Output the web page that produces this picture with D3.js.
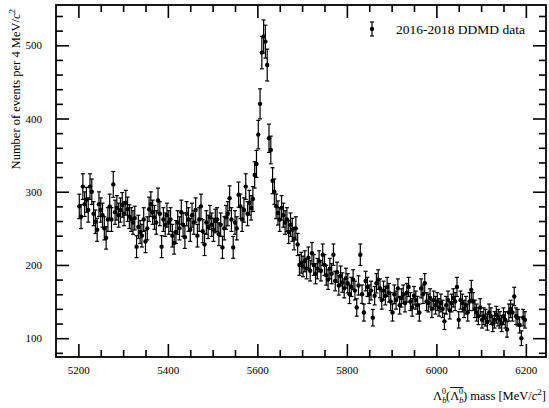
<!DOCTYPE html>
<html>
<head>
<meta charset="utf-8">
<script src="https://cdn.jsdelivr.net/npm/d3@7"></script>
<style>
  html, body { margin: 0; padding: 0; background: #fff; }
  svg { display: block; }
  text { font-family: "Liberation Serif", "DejaVu Serif", serif; fill: #000; }
</style>
</head>
<body>
<div id="chart"></div>
<script>
// ---------------- DATA ----------------
// Bin centres: 4 MeV/c^2 bins from 5200 to 6200
const binStart = 5200;
const binWidth = 4;
const nBins = 250;
const masses = d3.range(nBins).map(i => binStart + binWidth / 2 + i * binWidth);

// Events per bin
const counts = [
  // 5200-5240
  280, 266, 307, 283, 289, 275, 307, 300, 270, 259,
  // 5240-5280
  248, 283, 275, 268, 250, 237, 262, 280, 262, 310,
  // 5280-5320
  272, 278, 268, 275, 282, 270, 285, 276, 266, 262,
  // 5320-5360
  258, 264, 225, 252, 245, 240, 262, 232, 250, 276,
  // 5360-5400
  283, 272, 265, 258, 288, 270, 225, 262, 255, 268,
  // 5400-5440
  258, 262, 240, 230, 245, 258, 250, 272, 255, 238,
  // 5440-5480
  270, 262, 248, 268, 258, 275, 240, 262, 280, 246,
  // 5480-5520
  228, 258, 252, 265, 255, 248, 260, 262, 242, 255,
  // 5520-5560
  224, 250, 265, 270, 291, 262, 224, 258, 250, 296,
  // 5560-5600
  280, 262, 275, 307, 270, 285, 278, 290, 323, 338,
  // 5600-5648 (peak)
  378, 420, 490, 512, 505, 473, 373, 357, 315, 300, 280, 271,
  // 5648-5700
  262, 278, 268, 258, 262, 245, 255, 248, 236, 250, 228, 200, 203,
  // 5700-5800
  198, 205, 195, 210, 192, 216, 200, 188, 195, 205, 192, 214, 200,
  186, 180, 195, 188, 214, 178, 190, 172, 185, 176, 168, 182,
  // 5800-5900
  175, 160, 170, 180, 165, 142, 172, 214, 160, 135, 178, 170, 160,
  165, 128, 158, 175, 180, 168, 152, 165, 158, 170, 162, 150,
  // 5900-6000
  135, 160, 152, 168, 145, 155, 160, 148, 162, 170, 150, 142, 158,
  152, 145, 135, 168, 160, 175, 150, 148, 155, 140, 152, 145,
  // 6000-6100
  150, 142, 148, 140, 123, 145, 152, 138, 148, 155, 150, 170, 125,
  152, 148, 140, 145, 135, 150, 166, 150, 140, 135, 130, 142,
  // 6100-6200
  125, 130, 128, 122, 135, 130, 120, 125, 132, 128, 125, 120, 130,
  125, 112, 135, 140, 135, 157, 130, 128, 118, 100, 128, 125
];

const xMajorTicks = [5200, 5400, 5600, 5800, 6000, 6200];
const xMinorTicks = [5250, 5300, 5350, 5450, 5500, 5550, 5650, 5700, 5750,
                     5850, 5900, 5950, 6050, 6100, 6150, 6250];
const yMajorTicks = [100, 200, 300, 400, 500];
const yMinorTicks = [80, 120, 140, 160, 180, 220, 240, 260, 280, 320, 340,
                     360, 380, 420, 440, 460, 480, 520, 540];
const legendLabel = "2016-2018 DDMD data";

// ---------------- LAYOUT ----------------
const W = 549, H = 408;
const frame = { left: 56, right: 546, top: 5, bottom: 357 };

const x = d3.scaleLinear().domain([5150, 6245]).range([frame.left, frame.right]);
const y = d3.scaleLinear().domain([74.3, 555]).range([frame.bottom, frame.top]);

const svg = d3.select("#chart").append("svg")
  .attr("width", W).attr("height", H);

const data = masses.map((m, i) => ({ m, n: counts[i], e: Math.sqrt(counts[i]) }));

// ---------------- AXES ----------------
const majorLen = 13, minorLen = 7;
function styleAxis(g) {
  g.select(".domain").remove();
  g.selectAll(".tick line").attr("stroke", "#000").attr("stroke-width", 1.6);
  g.selectAll(".tick text").style("font-size", "11px");
}
const inRangeX = v => v > 5150 && v < 6245;

svg.append("g").attr("transform", `translate(0,${frame.bottom})`)
  .call(d3.axisBottom(x).tickValues(xMajorTicks).tickSize(-majorLen).tickPadding(9).tickFormat(d3.format("d")))
  .call(styleAxis);
svg.append("g").attr("transform", `translate(0,${frame.bottom})`)
  .call(d3.axisBottom(x).tickValues(xMinorTicks.filter(inRangeX)).tickSize(-minorLen).tickFormat(""))
  .call(styleAxis);
svg.append("g").attr("transform", `translate(0,${frame.top})`)
  .call(d3.axisTop(x).tickValues(xMajorTicks).tickSize(-majorLen).tickFormat(""))
  .call(styleAxis);
svg.append("g").attr("transform", `translate(0,${frame.top})`)
  .call(d3.axisTop(x).tickValues(xMinorTicks.filter(inRangeX)).tickSize(-minorLen).tickFormat(""))
  .call(styleAxis);

svg.append("g").attr("transform", `translate(${frame.left},0)`)
  .call(d3.axisLeft(y).tickValues(yMajorTicks).tickSize(-majorLen).tickPadding(14).tickFormat(d3.format("d")))
  .call(styleAxis);
svg.append("g").attr("transform", `translate(${frame.left},0)`)
  .call(d3.axisLeft(y).tickValues(yMinorTicks).tickSize(-minorLen).tickFormat(""))
  .call(styleAxis);
svg.append("g").attr("transform", `translate(${frame.right},0)`)
  .call(d3.axisRight(y).tickValues(yMajorTicks).tickSize(-majorLen).tickFormat(""))
  .call(styleAxis);
svg.append("g").attr("transform", `translate(${frame.right},0)`)
  .call(d3.axisRight(y).tickValues(yMinorTicks).tickSize(-minorLen).tickFormat(""))
  .call(styleAxis);

// frame
svg.append("rect")
  .attr("x", frame.left).attr("y", frame.top)
  .attr("width", frame.right - frame.left).attr("height", frame.bottom - frame.top)
  .attr("fill", "none").attr("stroke", "#000").attr("stroke-width", 1.8);

// ---------------- DATA POINTS ----------------
const capW = 2;
const pts = svg.append("g");
pts.selectAll("line.err").data(data).join("line")
  .attr("class", "err")
  .attr("x1", d => x(d.m)).attr("x2", d => x(d.m))
  .attr("y1", d => y(d.n - d.e)).attr("y2", d => y(d.n + d.e))
  .attr("stroke", "#000").attr("stroke-width", 1.2);
pts.selectAll("line.capT").data(data).join("line")
  .attr("class", "capT")
  .attr("x1", d => x(d.m) - capW).attr("x2", d => x(d.m) + capW)
  .attr("y1", d => y(d.n + d.e)).attr("y2", d => y(d.n + d.e))
  .attr("stroke", "#000").attr("stroke-width", 1.2);
pts.selectAll("line.capB").data(data).join("line")
  .attr("class", "capB")
  .attr("x1", d => x(d.m) - capW).attr("x2", d => x(d.m) + capW)
  .attr("y1", d => y(d.n - d.e)).attr("y2", d => y(d.n - d.e))
  .attr("stroke", "#000").attr("stroke-width", 1.2);
pts.selectAll("circle").data(data).join("circle")
  .attr("cx", d => x(d.m)).attr("cy", d => y(d.n)).attr("r", 2.2)
  .attr("fill", "#000");

// ---------------- LEGEND ----------------
const lg = svg.append("g").attr("transform", "translate(372,29)");
lg.append("line").attr("x1", 0).attr("x2", 0).attr("y1", -7).attr("y2", 7)
  .attr("stroke", "#000").attr("stroke-width", 1.2);
lg.append("line").attr("x1", -capW).attr("x2", capW).attr("y1", -7).attr("y2", -7)
  .attr("stroke", "#000").attr("stroke-width", 1.2);
lg.append("line").attr("x1", -capW).attr("x2", capW).attr("y1", 7).attr("y2", 7)
  .attr("stroke", "#000").attr("stroke-width", 1.2);
lg.append("circle").attr("r", 2.2).attr("fill", "#000");
lg.append("text").attr("x", 24).attr("y", 5).style("font-size", "13.5px").text(legendLabel);

// ---------------- AXIS TITLES ----------------
// y title
const yt = svg.append("text")
  .attr("transform", "translate(20,9) rotate(-90)")
  .attr("text-anchor", "end")
  .style("font-size", "12.5px");
yt.append("tspan").text("Number of events per 4 MeV/");
yt.append("tspan").style("font-style", "italic").text("c");
yt.append("tspan").attr("dy", -5).style("font-size", "9px").text("2");

// x title
const xt = svg.append("text")
  .attr("x", 0).attr("y", 400)
  .style("font-size", "12.5px");
xt.append("tspan").text("Λ");
xt.append("tspan").attr("dy", 3).style("font-size", "8.5px").style("font-style", "italic").text("b");
xt.append("tspan").attr("dx", -4.7).attr("dy", -9).style("font-size", "8.5px").text("0");
xt.append("tspan").attr("dy", 6).text("(");
xt.append("tspan").text("Λ");
xt.append("tspan").attr("dy", 3).style("font-size", "8.5px").style("font-style", "italic").text("b");
xt.append("tspan").attr("dx", -4.7).attr("dy", -9).style("font-size", "8.5px").text("0");
xt.append("tspan").attr("dy", 6).text(") mass [MeV/");
xt.append("tspan").style("font-style", "italic").text("c");
xt.append("tspan").attr("dy", -5).style("font-size", "9px").text("2");
xt.append("tspan").attr("dy", 5).text("]");

// right-align x title at the frame edge
const bb = xt.node().getBBox();
xt.attr("x", frame.right - bb.width);
// overline over the second Λb0 (chars: Λ b 0 ( Λ b 0 ...) -> indices 4..6
const node = xt.node();
const ox1 = node.getStartPositionOfChar(4).x;
const ox2 = node.getEndPositionOfChar(6).x;
svg.append("line")
  .attr("x1", ox1).attr("x2", ox2 + 0.5)
  .attr("y1", 387.5).attr("y2", 387.5)
  .attr("stroke", "#000").attr("stroke-width", 0.9);
</script>
</body>
</html>
